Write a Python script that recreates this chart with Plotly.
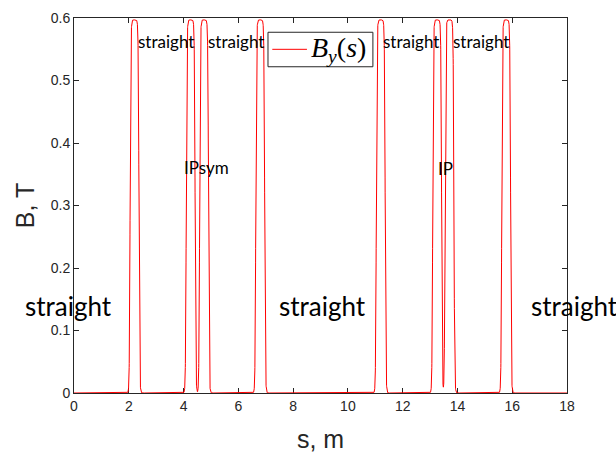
import numpy as np
import plotly.graph_objects as go

# Dipole magnet centres (m)
magnet_centres = [2.21, 4.26, 4.75, 6.80, 11.20, 13.26, 13.71, 15.78]
magnet_length = 0.324      # effective length (m)
fringe_width = 0.026       # fringe-field (Enge/tanh) width (m)
peak_field = 0.597         # T

s_min, s_max = 0.0, 18.0
B_min, B_max = 0.0, 0.6
x_ticks = [0, 2, 4, 6, 8, 10, 12, 14, 16, 18]
y_ticks = [0, 0.1, 0.2, 0.3, 0.4, 0.5, 0.6]

# Text labels (left edge s, B)
small_labels_s = [2.28, 4.83, 11.21, 13.76]
small_labels_B = 0.562
big_labels_s = [-1.88, 7.40, 16.62]
big_labels_B = 0.14
ip_labels = [(3.93, 0.361, "IPsym"), (13.22, 0.36, "IP")]
legend_text = "<i>B</i><sub><i>y</i></sub>(<i>s</i>)"

s = np.linspace(s_min, s_max, 9001)
B = np.zeros_like(s)
for c in magnet_centres:
    x1 = c - magnet_length / 2
    x2 = c + magnet_length / 2
    B += peak_field / 2 * (np.tanh((s - x1) / fringe_width) - np.tanh((s - x2) / fringe_width))

fig = go.Figure()
fig.add_trace(go.Scatter(
    x=s, y=B, mode="lines",
    line=dict(color="#ff0000", width=1),
    name=legend_text, showlegend=False, cliponaxis=False,
))


def px(sv):
    return (sv - s_min) / (s_max - s_min)


ann = []
lab_font_small = dict(family="Lato", size=17, color="#000000")
lab_font_big = dict(family="Lato", size=26, color="#000000")
for xs in small_labels_s:
    ann.append(dict(x=px(xs), y=small_labels_B, xref="paper", yref="y", text="straight",
                    showarrow=False, xanchor="left", yanchor="middle", font=lab_font_small))
for xs in big_labels_s:
    ann.append(dict(x=px(xs), y=big_labels_B, xref="paper", yref="y", text="straight",
                    showarrow=False, xanchor="left", yanchor="middle", font=lab_font_big))
for xs, yb, t in ip_labels:
    ann.append(dict(x=px(xs), y=yb, xref="paper", yref="y", text=t,
                    showarrow=False, xanchor="left", yanchor="middle", font=lab_font_small))

axis_col = "#262626"

# Legend box drawn manually (paper coordinates)
leg_x0, leg_x1, leg_y0, leg_y1 = 0.3935, 0.6063, 0.870, 0.962
leg_line_x0, leg_line_x1, leg_line_y = 0.4022, 0.4725, 0.9165
shapes = [
    dict(type="rect", xref="paper", yref="paper", x0=leg_x0, x1=leg_x1, y0=leg_y0, y1=leg_y1,
         line=dict(color=axis_col, width=1), fillcolor="white", layer="above"),
    dict(type="line", xref="paper", yref="paper", x0=leg_line_x0, x1=leg_line_x1,
         y0=leg_line_y, y1=leg_line_y, line=dict(color="#ff0000", width=1), layer="above"),
]
ann.append(dict(x=0.4775, y=leg_line_y, xref="paper", yref="paper", text=legend_text,
                showarrow=False, xanchor="left", yanchor="middle",
                font=dict(family="Liberation Serif", size=28, color="#000000")))

fig.update_layout(
    width=616, height=454,
    margin=dict(l=73.5, r=49, t=18, b=61),
    paper_bgcolor="white", plot_bgcolor="white",
    annotations=ann, shapes=shapes,
    showlegend=False,
    xaxis=dict(range=[s_min, s_max], tickvals=x_ticks, ticktext=[str(v) for v in x_ticks],
               showline=True, mirror="ticks", linecolor=axis_col, linewidth=1,
               ticks="inside", ticklen=5, tickcolor=axis_col, showgrid=False, zeroline=False,
               layer="below traces", automargin=False,
               tickfont=dict(family="Liberation Sans", size=14, color=axis_col),
               title=dict(text="s, m", font=dict(family="Liberation Sans", size=25, color=axis_col),
                          standoff=17)),
    yaxis=dict(range=[B_min, B_max], tickvals=y_ticks,
               ticktext=[("0" if v == 0 else f"{v:.1f}") for v in y_ticks],
               showline=True, mirror="ticks", linecolor=axis_col, linewidth=1,
               ticks="inside", ticklen=5, tickcolor=axis_col, showgrid=False, zeroline=False,
               layer="below traces", automargin=False,
               tickfont=dict(family="Liberation Sans", size=14, color=axis_col),
               title=dict(text="B, T", font=dict(family="Liberation Sans", size=25, color=axis_col),
                          standoff=8)),
)

fig.write_html("out.html")
